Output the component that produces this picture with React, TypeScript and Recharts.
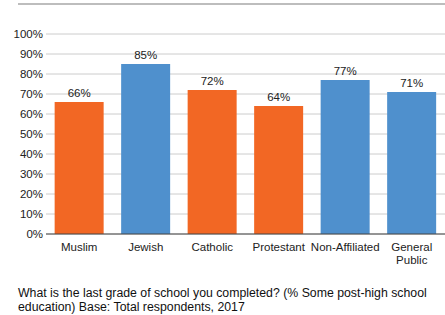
import { BarChart, Bar, XAxis, YAxis, CartesianGrid, Cell, LabelList } from "recharts";

const groups = ["Muslim", "Jewish", "Catholic", "Protestant", "Non-Affiliated", "General Public"];
const shares = [66, 85, 72, 64, 77, 71];
const barColors = ["#F26724", "#4F90CD", "#F26724", "#F26724", "#4F90CD", "#4F90CD"];
const yTicks = [0, 10, 20, 30, 40, 50, 60, 70, 80, 90, 100];

const data = groups.map((g, i) => ({ name: g, value: shares[i] }));

const font = "'Liberation Sans', Arial, Helvetica, sans-serif";

function GroupTick(props: any) {
  const { x, y, payload } = props;
  const text: string = payload.value;
  const lines = text.includes(" ") ? text.split(" ") : [text];
  return (
    <text x={x} y={y} textAnchor="middle" fontSize={11.5} fill="#222" fontFamily={font}>
      {lines.map((l, i) => (
        <tspan key={i} x={x} dy={i === 0 ? 9 : 13}>
          {l}
        </tspan>
      ))}
    </text>
  );
}

export default function App() {
  return (
    <div style={{ position: "absolute", left: 0, top: 0, width: 445, height: 315, background: "#fff", fontFamily: font }}>
      <div style={{ position: "absolute", left: 18, top: 3, width: 427, height: 0, borderTop: "2px solid #bdbdbd" }} />
      <BarChart
        width={445}
        height={270}
        data={data}
        margin={{ top: 34, right: 0, bottom: 6, left: 0 }}
        barCategoryGap="13%"
      >
        <CartesianGrid vertical={false} stroke="#cccccc" />
        <YAxis
          type="number"
          domain={[0, 100]}
          ticks={yTicks}
          width={46}
          axisLine={false}
          tickLine={false}
          tickSize={0}
          tickMargin={3}
          tickFormatter={(v: number) => `${v}%`}
          tick={{ fontSize: 11.5, fill: "#222", fontFamily: font }}
          interval={0}
        />
        <XAxis
          dataKey="name"
          height={30}
          axisLine={{ stroke: "#444", strokeWidth: 1 }}
          tickLine={false}
          interval={0}
          tick={<GroupTick />}
        />
        <Bar dataKey="value" isAnimationActive={false}>
          {data.map((d, i) => (
            <Cell key={d.name} fill={barColors[i]} />
          ))}
          <LabelList
            dataKey="value"
            position="top"
            offset={5}
            formatter={(v: any) => `${v}%`}
            style={{ fontSize: 11.5, fill: "#222", fontFamily: font }}
          />
        </Bar>
      </BarChart>
      <div style={{ position: "absolute", left: 18, top: 286, width: 415, fontSize: 12.3, lineHeight: "14px", color: "#111" }}>
        What is the last grade of school you completed? (% Some post-high school education) Base: Total respondents, 2017
      </div>
    </div>
  );
}
